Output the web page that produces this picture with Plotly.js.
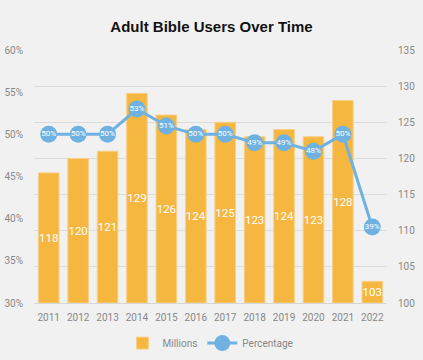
<!DOCTYPE html>
<html>
<head>
<meta charset="utf-8">
<script src="https://cdn.plot.ly/plotly-3.0.1.min.js"></script>
<style>html,body{margin:0;padding:0;background:#f1f1f1;}#chart{width:423px;height:360px;}</style>
</head>
<body>
<div id="chart"></div>
<script>
const years = ['2011','2012','2013','2014','2015','2016','2017','2018','2019','2020','2021','2022'];
const millions = [118, 120, 121, 129, 126, 124, 125, 123, 124, 123, 128, 103];
const percentage = [0.50, 0.50, 0.50, 0.53, 0.51, 0.50, 0.50, 0.49, 0.49, 0.48, 0.50, 0.39];
const percentLabels = ['50%','50%','50%','53%','51%','50%','50%','49%','49%','48%','50%','39%'];
const barBase = 100;

const fam = 'Roboto, Arial, sans-serif';

const bars = {
  type: 'bar',
  name: 'Millions',
  x: years,
  base: barBase,
  y: millions.map(v => v - barBase),
  text: millions.map(String),
  textposition: 'inside',
  insidetextanchor: 'middle',
  textangle: 0,
  constraintext: 'none',
  textfont: {color: '#ffffff', size: 11.5, family: fam},
  marker: {color: '#F5B73F', line: {color: '#F8D089', width: 1}},
  width: 0.7,
  yaxis: 'y',
  hoverinfo: 'x+text'
};
const line = {
  type: 'scatter',
  mode: 'lines+markers+text',
  name: 'Percentage',
  x: years,
  y: percentage,
  text: percentLabels,
  textposition: 'middle center',
  textfont: {color: '#ffffff', size: 8, family: fam},
  line: {color: '#6FB2E2', width: 3},
  marker: {color: '#6FB2E2', size: 17},
  yaxis: 'y2'
};

const layout = {
  width: 423, height: 360,
  paper_bgcolor: '#f1f1f1', plot_bgcolor: '#f1f1f1',
  margin: {l: 34, r: 36, t: 50, b: 57, autoexpand: false},
  title: {text: '<b>Adult Bible Users Over Time</b>', x: 0.5, xanchor: 'center', y: 0.925, yanchor: 'middle',
          font: {family: 'Liberation Sans, Arial, sans-serif', size: 15, color: '#111111'}},
  font: {family: fam, color: '#888888', size: 10},
  showlegend: true,
  legend: {orientation: 'h', x: 0.5, xanchor: 'center', yref: 'container', y: 0.047, yanchor: 'middle',
           font: {size: 10, color: '#888888'}, bgcolor: 'rgba(0,0,0,0)'},
  xaxis: {type: 'category', range: [-0.5, 11.5], showgrid: false, zeroline: false,
          showline: true, linecolor: '#d6d6d6', linewidth: 1, ticks: '', ticklabelstandoff: 5,
          tickfont: {size: 10, color: '#888888'}},
  yaxis: {range: [100, 135], dtick: 5, side: 'right', showgrid: true, gridcolor: '#dcdcdc',
          zeroline: false, showline: false, ticks: '', ticklabelstandoff: 10,
          tickfont: {size: 10, color: '#888888'}},
  yaxis2: {range: [0.30, 0.60], dtick: 0.05, tickformat: '.0%', side: 'left', overlaying: 'y',
           showgrid: false, zeroline: false, showline: false, ticks: '', ticklabelstandoff: 10,
           tickfont: {size: 10, color: '#888888'}}
};

Plotly.newPlot('chart', [bars, line], layout, {displayModeBar: false, staticPlot: true});
</script>
</body>
</html>
